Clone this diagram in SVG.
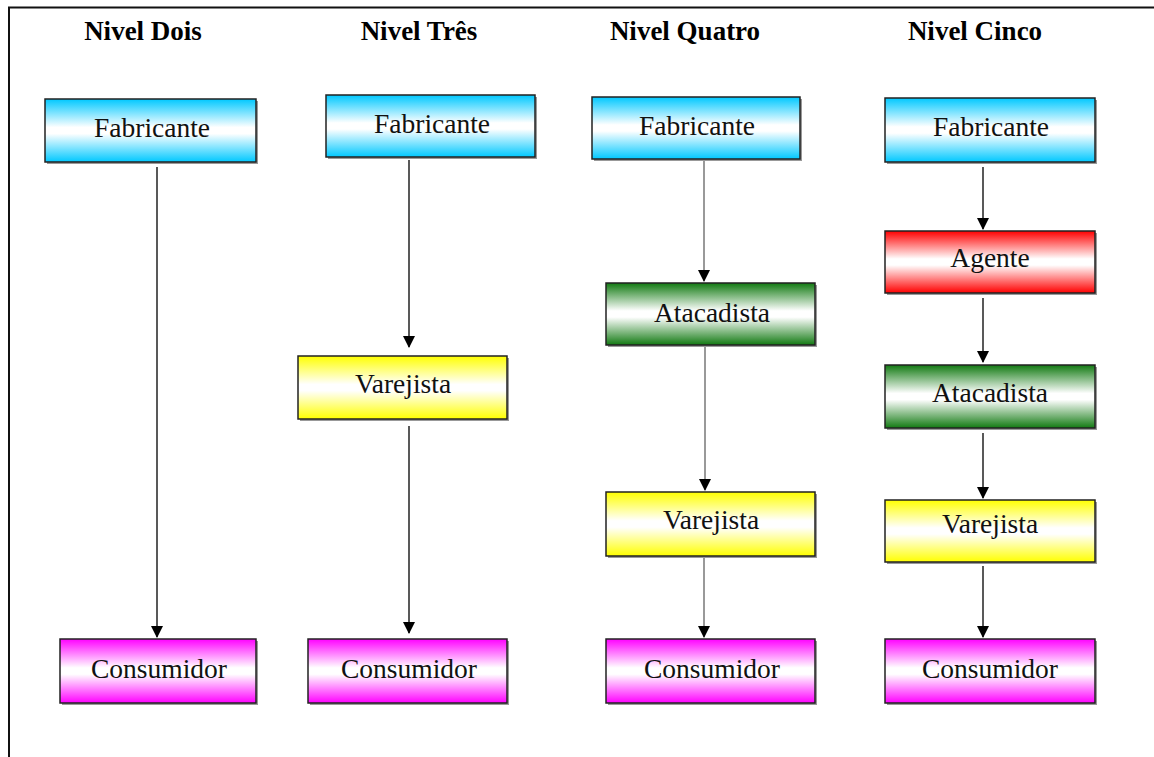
<svg xmlns="http://www.w3.org/2000/svg" width="1154" height="757" viewBox="0 0 1154 757">
<style>
.t{font-family:"Liberation Serif","Times New Roman",serif;font-size:27px;font-weight:bold;text-anchor:middle;fill:#000}
.l{font-family:"Liberation Serif","Times New Roman",serif;font-size:27.5px;text-anchor:middle;fill:#111}
.b{stroke:#222;stroke-width:1.5}
.sh{fill:#999}
.c{stroke:#222;stroke-width:1.5;fill:none}
.cg{stroke:#555;stroke-width:1.2;fill:none}
</style>
<defs>
<linearGradient id="gB" x1="0" y1="0" x2="0" y2="1"><stop offset="0" stop-color="#00c8ff"/><stop offset="0.45" stop-color="#fff"/><stop offset="0.55" stop-color="#fff"/><stop offset="1" stop-color="#00c8ff"/></linearGradient>
<linearGradient id="gY" x1="0" y1="0" x2="0" y2="1"><stop offset="0" stop-color="#ffff00"/><stop offset="0.45" stop-color="#fff"/><stop offset="0.55" stop-color="#fff"/><stop offset="1" stop-color="#ffff00"/></linearGradient>
<linearGradient id="gM" x1="0" y1="0" x2="0" y2="1"><stop offset="0" stop-color="#ff00ff"/><stop offset="0.45" stop-color="#fff"/><stop offset="0.55" stop-color="#fff"/><stop offset="1" stop-color="#ff00ff"/></linearGradient>
<linearGradient id="gG" x1="0" y1="0" x2="0" y2="1"><stop offset="0" stop-color="#127a12"/><stop offset="0.45" stop-color="#fff"/><stop offset="0.55" stop-color="#fff"/><stop offset="1" stop-color="#127a12"/></linearGradient>
<linearGradient id="gR" x1="0" y1="0" x2="0" y2="1"><stop offset="0" stop-color="#ff0000"/><stop offset="0.45" stop-color="#fff"/><stop offset="0.55" stop-color="#fff"/><stop offset="1" stop-color="#ff0000"/></linearGradient>
<marker id="ar2" markerWidth="12" markerHeight="12" refX="11" refY="6" orient="auto" markerUnits="userSpaceOnUse"><path d="M0,0 L12,6 L0,12 Z" fill="#000"/></marker>
</defs>
<rect width="1154" height="757" fill="#fff"/>
<path d="M9,760 V7.5 H1160" fill="none" stroke="#111" stroke-width="2"/>
<g id="titles">
<text class="t" x="143" y="40">Nivel Dois</text>
<text class="t" x="419" y="40">Nivel Três</text>
<text class="t" x="685" y="40">Nivel Quatro</text>
<text class="t" x="975" y="40">Nivel Cinco</text>
</g>
<g id="connectors">
<line class="c" x1="157" y1="167" x2="157" y2="637" marker-end="url(#ar2)"/>
<line class="c" x1="409" y1="160" x2="409" y2="347" marker-end="url(#ar2)"/>
<line class="c" x1="409" y1="426" x2="409" y2="633" marker-end="url(#ar2)"/>
<line class="cg" x1="704" y1="160" x2="704" y2="281" marker-end="url(#ar2)"/>
<line class="cg" x1="705" y1="346" x2="705" y2="490" marker-end="url(#ar2)"/>
<line class="cg" x1="704" y1="557" x2="704" y2="637" marker-end="url(#ar2)"/>
<line class="c" x1="983" y1="167" x2="983" y2="229" marker-end="url(#ar2)"/>
<line class="c" x1="983" y1="298" x2="983" y2="362" marker-end="url(#ar2)"/>
<line class="c" x1="983" y1="433" x2="983" y2="498" marker-end="url(#ar2)"/>
<line class="c" x1="983" y1="566" x2="983" y2="637" marker-end="url(#ar2)"/>
</g>
<g id="n2-fab"><rect class="sh" x="47" y="101" width="211" height="63"/><rect class="b" x="45" y="99" width="211" height="63" fill="url(#gB)"/><text class="l" x="152" y="137">Fabricante</text></g>
<g id="n2-con"><rect class="sh" x="62" y="641" width="196" height="64"/><rect class="b" x="60" y="639" width="196" height="64" fill="url(#gM)"/><text class="l" x="159" y="678">Consumidor</text></g>
<g id="n3-fab"><rect class="sh" x="328" y="97" width="209" height="62"/><rect class="b" x="326" y="95" width="209" height="62" fill="url(#gB)"/><text class="l" x="432" y="133">Fabricante</text></g>
<g id="n3-var"><rect class="sh" x="300" y="358" width="209" height="63"/><rect class="b" x="298" y="356" width="209" height="63" fill="url(#gY)"/><text class="l" x="403" y="393">Varejista</text></g>
<g id="n3-con"><rect class="sh" x="310" y="641" width="199" height="64"/><rect class="b" x="308" y="639" width="199" height="64" fill="url(#gM)"/><text class="l" x="409" y="678">Consumidor</text></g>
<g id="n4-fab"><rect class="sh" x="594" y="99" width="208" height="62"/><rect class="b" x="592" y="97" width="208" height="62" fill="url(#gB)"/><text class="l" x="697" y="135">Fabricante</text></g>
<g id="n4-ata"><rect class="sh" x="608" y="285" width="209" height="62"/><rect class="b" x="606" y="283" width="209" height="62" fill="url(#gG)"/><text class="l" x="712" y="322">Atacadista</text></g>
<g id="n4-var"><rect class="sh" x="608" y="494" width="209" height="64"/><rect class="b" x="606" y="492" width="209" height="64" fill="url(#gY)"/><text class="l" x="711" y="529">Varejista</text></g>
<g id="n4-con"><rect class="sh" x="608" y="641" width="209" height="64"/><rect class="b" x="606" y="639" width="209" height="64" fill="url(#gM)"/><text class="l" x="712" y="678">Consumidor</text></g>
<g id="n5-fab"><rect class="sh" x="887" y="100" width="210" height="64"/><rect class="b" x="885" y="98" width="210" height="64" fill="url(#gB)"/><text class="l" x="991" y="136">Fabricante</text></g>
<g id="n5-age"><rect class="sh" x="887" y="233" width="210" height="62"/><rect class="b" x="885" y="231" width="210" height="62" fill="url(#gR)"/><text class="l" x="990" y="267">Agente</text></g>
<g id="n5-ata"><rect class="sh" x="887" y="367" width="210" height="63"/><rect class="b" x="885" y="365" width="210" height="63" fill="url(#gG)"/><text class="l" x="990" y="402">Atacadista</text></g>
<g id="n5-var"><rect class="sh" x="887" y="502" width="210" height="62"/><rect class="b" x="885" y="500" width="210" height="62" fill="url(#gY)"/><text class="l" x="990" y="533">Varejista</text></g>
<g id="n5-con"><rect class="sh" x="887" y="641" width="210" height="64"/><rect class="b" x="885" y="639" width="210" height="64" fill="url(#gM)"/><text class="l" x="990" y="678">Consumidor</text></g>
</svg>
